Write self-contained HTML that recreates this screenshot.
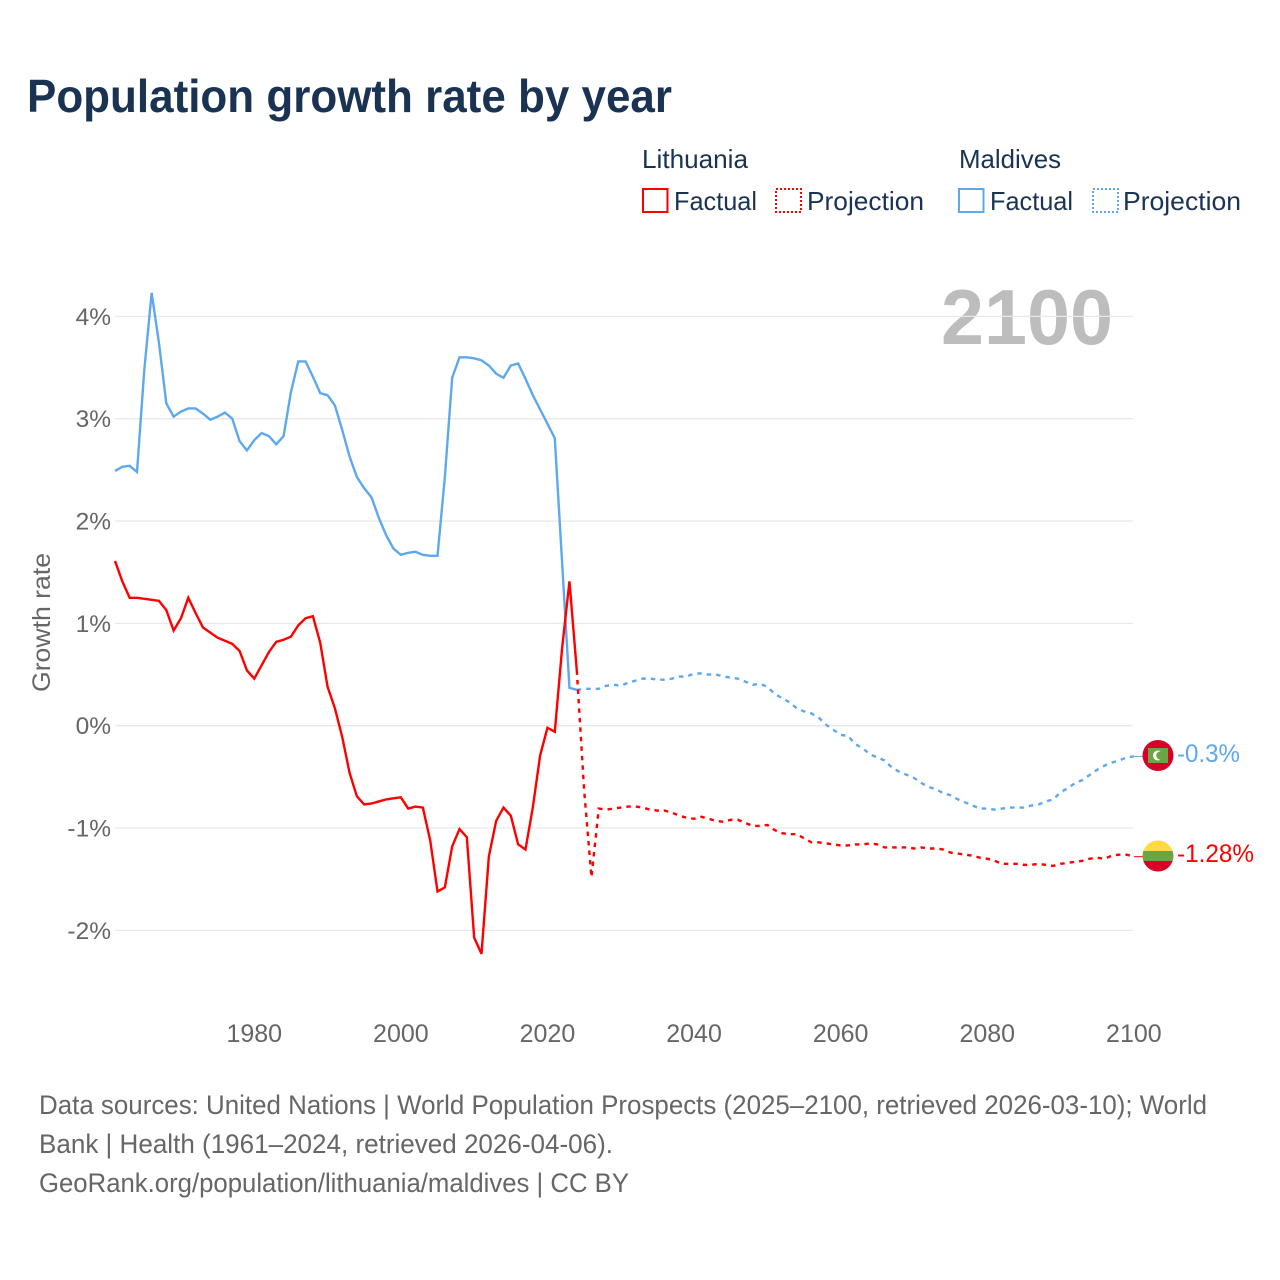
<!DOCTYPE html>
<html lang="en">
<head>
<meta charset="utf-8">
<title>Population growth rate by year</title>
<style>
html,body{margin:0;padding:0;background:#fff;width:1280px;height:1280px;overflow:hidden}
svg{display:block}
text{font-family:"Liberation Sans",sans-serif}
</style>
</head>
<body>
<svg id="chart" xmlns="http://www.w3.org/2000/svg" width="1280" height="1280" viewBox="0 0 1280 1280">
  <rect width="1280" height="1280" fill="#ffffff"/>
  <text x="27" y="112" font-size="46" font-weight="700" fill="#1a3353" textLength="645" lengthAdjust="spacingAndGlyphs">Population growth rate by year</text>

  <g font-size="26" fill="#1a3353">
    <text x="642" y="168" textLength="106" lengthAdjust="spacingAndGlyphs">Lithuania</text>
    <rect x="643" y="189" width="24.500" height="23" fill="none" stroke="#ff0000" stroke-width="2"/>
    <text x="674" y="210" textLength="83" lengthAdjust="spacingAndGlyphs">Factual</text>
    <rect x="776" y="189" width="25" height="23" fill="none" stroke="#ff0000" stroke-width="2" stroke-dasharray="2 2"/>
    <text x="807" y="210" textLength="117" lengthAdjust="spacingAndGlyphs">Projection</text>
    <text x="959" y="168" textLength="102" lengthAdjust="spacingAndGlyphs">Maldives</text>
    <rect x="959" y="189" width="24.500" height="23" fill="none" stroke="#5ea8ee" stroke-width="2"/>
    <text x="990" y="210" textLength="83" lengthAdjust="spacingAndGlyphs">Factual</text>
    <rect x="1093" y="189" width="25" height="23" fill="none" stroke="#5ea8ee" stroke-width="2" stroke-dasharray="2 2"/>
    <text x="1123" y="210" textLength="118" lengthAdjust="spacingAndGlyphs">Projection</text>
  </g>

  <text x="941" y="344" font-size="78" font-weight="700" fill="#bdbdbd" textLength="172" lengthAdjust="spacingAndGlyphs">2100</text>
  <text transform="translate(50 692) rotate(-90)" font-size="25" fill="#666666" textLength="139" lengthAdjust="spacingAndGlyphs">Growth rate</text>

  <g id="grid"></g>
  <g id="yTicks"></g>
  <g id="xTicks"></g>
  <g id="series"></g>

  <g>
    <circle cx="1158" cy="755.500" r="15.500" fill="#d80027"/>
    <rect x="1148" y="748" width="20" height="15" fill="#6da544"/>
    <circle cx="1158" cy="755.500" r="5" fill="#ffffff"/>
    <circle cx="1160.500" cy="755.500" r="4.300" fill="#6da544"/>
  </g>
  <g>
    <clipPath id="ltClip"><circle cx="1158" cy="856" r="15.500"/></clipPath>
    <g clip-path="url(#ltClip)">
      <rect x="1142" y="840" width="32" height="11" fill="#ffda44"/>
      <rect x="1142" y="851" width="32" height="10" fill="#6da544"/>
      <rect x="1142" y="861" width="32" height="11" fill="#d80027"/>
    </g>
  </g>
  <text x="1177" y="762" font-size="25" fill="#5ea8ee" textLength="63" lengthAdjust="spacingAndGlyphs">-0.3%</text>
  <text x="1177" y="862" font-size="25" fill="#ff0000" textLength="77" lengthAdjust="spacingAndGlyphs">-1.28%</text>

  <g font-size="27" fill="#666666">
    <text x="39" y="1114" textLength="1168" lengthAdjust="spacingAndGlyphs">Data sources: United Nations | World Population Prospects (2025–2100, retrieved 2026-03-10); World</text>
    <text x="39" y="1153" textLength="574" lengthAdjust="spacingAndGlyphs">Bank | Health (1961–2024, retrieved 2026-04-06).</text>
    <text x="39" y="1192" textLength="590" lengthAdjust="spacingAndGlyphs">GeoRank.org/population/lithuania/maldives | CC BY</text>
  </g>
</svg>

<script>
const firstFactualYear = 1961;
const firstProjectionYear = 2024;
const yTickValues = [4, 3, 2, 1, 0, -1, -2];
const yTickLabels = ["4%", "3%", "2%", "1%", "0%", "-1%", "-2%"];
const xTickValues = [1980, 2000, 2020, 2040, 2060, 2080, 2100];
const xTickLabels = ["1980", "2000", "2020", "2040", "2060", "2080", "2100"];

const maldivesFactual = [
  2.49,2.53,2.54,2.48,3.48,4.23,3.74,3.15,3.02,3.07,
  3.10,3.10,3.05,2.99,3.02,3.06,3.00,2.78,2.69,2.79,
  2.86,2.83,2.75,2.83,3.26,3.56,3.56,3.41,3.25,3.23,
  3.13,2.89,2.63,2.43,2.32,2.23,2.03,1.86,1.73,1.67,
  1.69,1.70,1.67,1.66,1.66,2.43,3.40,3.60,3.60,3.59,
  3.57,3.52,3.44,3.40,3.52,3.54,3.39,3.23,3.09,2.95,
  2.81,1.59,0.37,0.35
];
const maldivesProjection = [
  0.35,0.36,0.36,0.36,0.39,0.40,0.39,
  0.42,0.44,0.46,0.46,0.45,0.45,0.46,0.48,0.48,0.51,
  0.51,0.50,0.50,0.48,0.47,0.46,0.43,0.40,0.41,0.38,
  0.31,0.27,0.23,0.17,0.14,0.12,0.08,0.01,-0.04,-0.09,
  -0.10,-0.18,-0.22,-0.28,-0.31,-0.34,-0.41,-0.45,-0.48,-0.51,
  -0.56,-0.60,-0.62,-0.66,-0.68,-0.72,-0.75,-0.78,-0.81,-0.81,
  -0.82,-0.81,-0.80,-0.80,-0.80,-0.78,-0.77,-0.74,-0.72,-0.65,
  -0.61,-0.56,-0.53,-0.48,-0.43,-0.39,-0.36,-0.34,-0.31,-0.30
];
const lithuaniaFactual = [
  1.61,1.41,1.25,1.25,1.24,1.23,1.22,1.13,0.93,1.05,
  1.25,1.10,0.96,0.91,0.86,0.83,0.80,0.73,0.54,0.46,
  0.59,0.72,0.82,0.84,0.87,0.98,1.05,1.07,0.81,0.38,
  0.17,-0.11,-0.46,-0.69,-0.77,-0.76,-0.74,-0.72,-0.71,-0.70,
  -0.81,-0.79,-0.80,-1.12,-1.62,-1.58,-1.18,-1.01,-1.09,-2.07,
  -2.23,-1.28,-0.93,-0.80,-0.88,-1.16,-1.21,-0.80,-0.29,-0.02,
  -0.06,0.76,1.41,0.54
];
const lithuaniaProjection = [
  0.54,-0.63,-1.48,-0.81,-0.82,-0.81,-0.80,
  -0.79,-0.79,-0.80,-0.82,-0.83,-0.83,-0.85,-0.88,-0.90,-0.91,
  -0.89,-0.91,-0.93,-0.94,-0.92,-0.92,-0.95,-0.98,-0.98,-0.97,
  -1.02,-1.05,-1.06,-1.06,-1.10,-1.14,-1.14,-1.15,-1.16,-1.17,
  -1.17,-1.16,-1.16,-1.15,-1.16,-1.19,-1.19,-1.19,-1.19,-1.20,
  -1.19,-1.20,-1.20,-1.21,-1.24,-1.25,-1.26,-1.27,-1.29,-1.30,
  -1.32,-1.35,-1.35,-1.35,-1.36,-1.36,-1.35,-1.36,-1.37,-1.35,
  -1.34,-1.33,-1.32,-1.30,-1.29,-1.30,-1.27,-1.26,-1.26,-1.28
];

const NS = "http://www.w3.org/2000/svg";
function xScale(year) { return 115 + (year - 1961) * 7.33; }
function yScale(value) { return 725.7 - value * 102.33; }
function pathFor(values, startYear) {
  return values.map(function (v, i) {
    return (i ? "L" : "M") + xScale(startYear + i).toFixed(2) + " " + yScale(v).toFixed(2);
  }).join(" ");
}
function make(tag, attrs, parent) {
  const el = document.createElementNS(NS, tag);
  Object.keys(attrs).forEach(function (k) { el.setAttribute(k, attrs[k]); });
  parent.appendChild(el);
  return el;
}

const grid = document.getElementById("grid");
const yTicks = document.getElementById("yTicks");
const xTicks = document.getElementById("xTicks");
const series = document.getElementById("series");

yTickValues.forEach(function (v, i) {
  const line = make("line", { x1: 115, x2: 1133, y1: yScale(v), y2: yScale(v), stroke: "#e9e9e9", "stroke-width": 1.3 }, grid);
  
  
  const label = make("text", { x: 111, y: yScale(v) + 8.500, "text-anchor": "end", "font-size": 24.500, fill: "#666666" }, yTicks);
  
  
  label.textContent = yTickLabels[i];
});

xTickValues.forEach(function (y, i) {
  const label = make("text", { x: xScale(y), y: 1042, "text-anchor": "middle", "font-size": 25, fill: "#666666" }, xTicks);
  
  
  label.textContent = xTickLabels[i];
});

const BLUE = "#5ea8ee";
const RED = "#ff0000";
const DASH = "4.500 5";
const WIDTH = 2.400;

const blueSolid = make("path", { d: pathFor(maldivesFactual, firstFactualYear), fill: "none", stroke: BLUE, "stroke-width": WIDTH }, series);



const blueDash = make("path", { d: pathFor(maldivesProjection, firstProjectionYear), fill: "none", stroke: BLUE, "stroke-width": WIDTH, "stroke-dasharray": DASH }, series);



const redSolid = make("path", { d: pathFor(lithuaniaFactual, firstFactualYear), fill: "none", stroke: RED, "stroke-width": WIDTH }, series);



const redDash = make("path", { d: pathFor(lithuaniaProjection, firstProjectionYear), fill: "none", stroke: RED, "stroke-width": WIDTH, "stroke-dasharray": DASH }, series);



const lastYear = firstProjectionYear + maldivesProjection.length - 1;
const blueLead = make("line", { x1: xScale(lastYear), x2: 1143, y1: yScale(maldivesProjection[maldivesProjection.length - 1]), y2: yScale(maldivesProjection[maldivesProjection.length - 1]), stroke: BLUE, "stroke-width": 1 }, series);



const redLead = make("line", { x1: xScale(lastYear), x2: 1143, y1: yScale(lithuaniaProjection[lithuaniaProjection.length - 1]), y2: yScale(lithuaniaProjection[lithuaniaProjection.length - 1]), stroke: RED, "stroke-width": 1 }, series);


</script>
</body>
</html>
